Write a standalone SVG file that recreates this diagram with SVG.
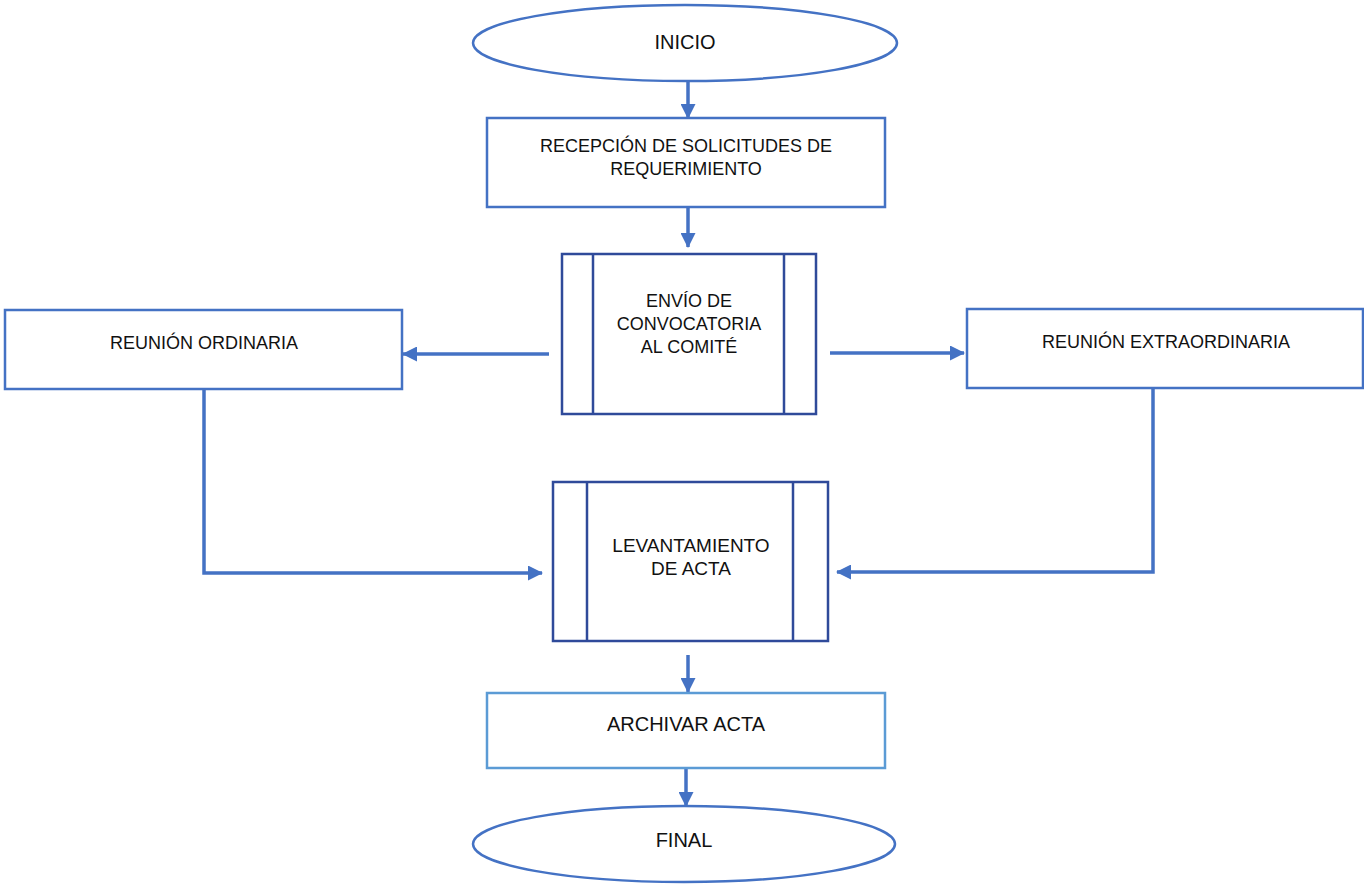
<svg xmlns="http://www.w3.org/2000/svg" width="1364" height="885" viewBox="0 0 1364 885">
<defs>
<marker id="ah" markerWidth="15" markerHeight="15" refX="14" refY="7.5" orient="auto" markerUnits="userSpaceOnUse">
<path d="M0,0 L15,7.5 L0,15 Z" fill="#4472C4"/>
</marker>
<style>
.term{fill:#fff;stroke:#4472C4;stroke-width:2.5}
.box{fill:#fff;stroke:#4472C4;stroke-width:2.5}
.boxl{fill:#fff;stroke:#5B9BD5;stroke-width:2.5}
.pre{fill:#fff;stroke:#2F4A9A;stroke-width:2.5}
.preline{stroke:#2F4A9A;stroke-width:2.5}
.conn{fill:none;stroke:#4472C4;stroke-width:3.5;marker-end:url(#ah)}
text{font-family:"Liberation Sans",Arial,sans-serif;fill:#111;text-anchor:middle;dominant-baseline:central}
.t18{font-size:18px}
.t19{font-size:19px}
.t20{font-size:20px}
</style>
</defs>
<rect width="1364" height="885" fill="#fff"/>
<g id="connectors">
<path class="conn" d="M688,82 L688,118"/>
<path class="conn" d="M688,207 L688,247"/>
<path class="conn" d="M549,354 L403,354"/>
<path class="conn" d="M830,353 L964,353"/>
<path class="conn" d="M204,389 L204,573 L542,573"/>
<path class="conn" d="M1153,388 L1153,572 L837,572"/>
<path class="conn" d="M688,655 L688,692"/>
<path class="conn" d="M686,768 L686,806"/>
</g>
<g id="inicio">
<ellipse class="term" cx="685" cy="43" rx="212" ry="38"/>
<text class="t20" x="685" y="42">INICIO</text>
</g>
<g id="recepcion">
<rect class="box" x="487" y="118" width="398" height="89"/>
<text class="t18" x="686" y="146">RECEPCIÓN DE SOLICITUDES DE</text>
<text class="t18" x="686" y="169">REQUERIMIENTO</text>
</g>
<g id="envio">
<rect class="pre" x="562" y="254" width="254" height="160"/>
<line class="preline" x1="593" y1="254" x2="593" y2="414"/>
<line class="preline" x1="784" y1="254" x2="784" y2="414"/>
<text class="t18" x="689" y="301">ENVÍO DE</text>
<text class="t18" x="689" y="324">CONVOCATORIA</text>
<text class="t18" x="689" y="347">AL COMITÉ</text>
</g>
<g id="ordinaria">
<rect class="box" x="5" y="310" width="397" height="79"/>
<text class="t18" x="204" y="343">REUNIÓN ORDINARIA</text>
</g>
<g id="extraordinaria">
<rect class="box" x="967" y="309" width="396" height="79"/>
<text class="t18" x="1166" y="342">REUNIÓN EXTRAORDINARIA</text>
</g>
<g id="levantamiento">
<rect class="pre" x="553" y="482" width="275" height="159"/>
<line class="preline" x1="587" y1="482" x2="587" y2="641"/>
<line class="preline" x1="793" y1="482" x2="793" y2="641"/>
<text class="t19" x="691" y="545">LEVANTAMIENTO</text>
<text class="t19" x="691" y="568">DE ACTA</text>
</g>
<g id="archivar">
<rect class="boxl" x="487" y="693" width="398" height="75"/>
<text class="t20" x="686" y="724">ARCHIVAR ACTA</text>
</g>
<g id="final">
<ellipse class="term" cx="684" cy="844" rx="211" ry="38"/>
<text class="t20" x="684" y="840">FINAL</text>
</g>
</svg>
